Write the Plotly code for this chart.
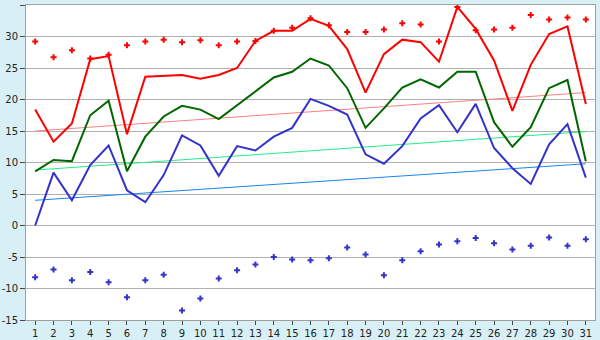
import plotly.graph_objects as go

days = list(range(1, 32))

max_temp = [18.4, 13.3, 16.2, 26.4, 26.9, 14.5, 23.6, 23.7, 23.9, 23.3,
            23.9, 25.0, 29.3, 30.9, 30.9, 32.8, 31.7, 28.0, 21.1, 27.2,
            29.5, 29.1, 26.0, 34.7, 31.2, 26.2, 18.2, 25.5, 30.4, 31.6, 19.3]

mean_temp = [8.6, 10.4, 10.2, 17.5, 19.8, 8.6, 14.1, 17.3, 19.0, 18.4,
             16.9, 19.1, 21.4, 23.5, 24.4, 26.5, 25.4, 21.8, 15.5, 18.6,
             21.9, 23.2, 21.9, 24.4, 24.4, 16.4, 12.5, 15.6, 21.8, 23.1, 10.2]

min_temp = [0.0, 8.4, 4.0, 9.6, 12.7, 5.6, 3.7, 8.0, 14.3, 12.7,
            7.9, 12.6, 11.9, 14.1, 15.5, 20.1, 19.0, 17.6, 11.3, 9.8,
            12.6, 17.0, 19.1, 14.8, 19.3, 12.3, 9.1, 6.6, 12.9, 16.1, 7.6]

max_extreme = [29.2, 26.7, 27.8, 26.5, 27.1, 28.6, 29.2, 29.5, 29.1, 29.4,
               28.6, 29.2, 29.3, 30.9, 31.4, 32.9, 31.8, 30.7, 30.7, 31.1,
               32.1, 31.9, 29.2, 34.7, 31.0, 31.1, 31.4, 33.4, 32.7, 33.0, 32.7]

min_extreme = [-8.2, -7.0, -8.7, -7.4, -9.0, -11.4, -8.7, -7.8, -13.5, -11.6,
               -8.4, -7.1, -6.2, -5.0, -5.4, -5.5, -5.2, -3.5, -4.6, -7.9,
               -5.5, -4.1, -3.0, -2.5, -2.0, -2.8, -3.8, -3.2, -1.9, -3.2, -2.2]

# climate normals (start / end of month)
normal_days = [1, 31]
normal_max = [15.0, 21.1]
normal_mean = [8.8, 14.9]
normal_min = [4.0, 9.8]

y_ticks = list(range(-15, 40, 5))

fig = go.Figure()

fig.add_trace(go.Scatter(x=normal_days, y=normal_max, mode="lines",
                         line=dict(color="#ff8080", width=1)))
fig.add_trace(go.Scatter(x=normal_days, y=normal_mean, mode="lines",
                         line=dict(color="#22ee88", width=1)))
fig.add_trace(go.Scatter(x=normal_days, y=normal_min, mode="lines",
                         line=dict(color="#1a86f0", width=1)))

fig.add_trace(go.Scatter(x=days, y=max_temp, mode="lines",
                         line=dict(color="#ff0000", width=2)))
fig.add_trace(go.Scatter(x=days, y=mean_temp, mode="lines",
                         line=dict(color="#006600", width=2)))
fig.add_trace(go.Scatter(x=days, y=min_temp, mode="lines",
                         line=dict(color="#3333cc", width=2)))

fig.add_trace(go.Scatter(x=days, y=max_extreme, mode="markers",
                         marker=dict(color="#ff0000", symbol="cross", size=5,
                                     line=dict(width=0))))
fig.add_trace(go.Scatter(x=days, y=min_extreme, mode="markers",
                         marker=dict(color="#3333cc", symbol="cross", size=5,
                                     line=dict(width=0))))

fig.update_layout(
    width=600, height=340,
    margin=dict(l=26, r=5, t=5, b=20, autoexpand=False),
    paper_bgcolor="#d9eff6",
    plot_bgcolor="#ffffff",
    showlegend=False,
    hovermode=False,
    font=dict(family="DejaVu Sans", size=10, color="#222222"),
)

fig.update_xaxes(
    range=[0.5, 31.5], automargin=False,
    tickmode="array", tickvals=days, ticktext=[str(d) for d in days],
    showgrid=False, zeroline=False,
    showline=True, linecolor="#a0a0a0", linewidth=1, mirror=True,
    ticks="outside", ticklen=4, tickcolor="#444444",
    tickfont=dict(size=10),
)
fig.update_yaxes(
    range=[-15, 35], automargin=False,
    tickmode="array", tickvals=y_ticks, ticktext=[str(v) for v in y_ticks],
    showgrid=True, gridcolor="#b0b0b0", gridwidth=1, zeroline=False,
    showline=True, linecolor="#a0a0a0", linewidth=1, mirror=True,
    ticks="outside", ticklen=5, tickcolor="#444444",
    tickfont=dict(size=10),
)

fig.write_html("out.html", config={"displayModeBar": False},
               post_script="document.body.style.margin='0px';")
